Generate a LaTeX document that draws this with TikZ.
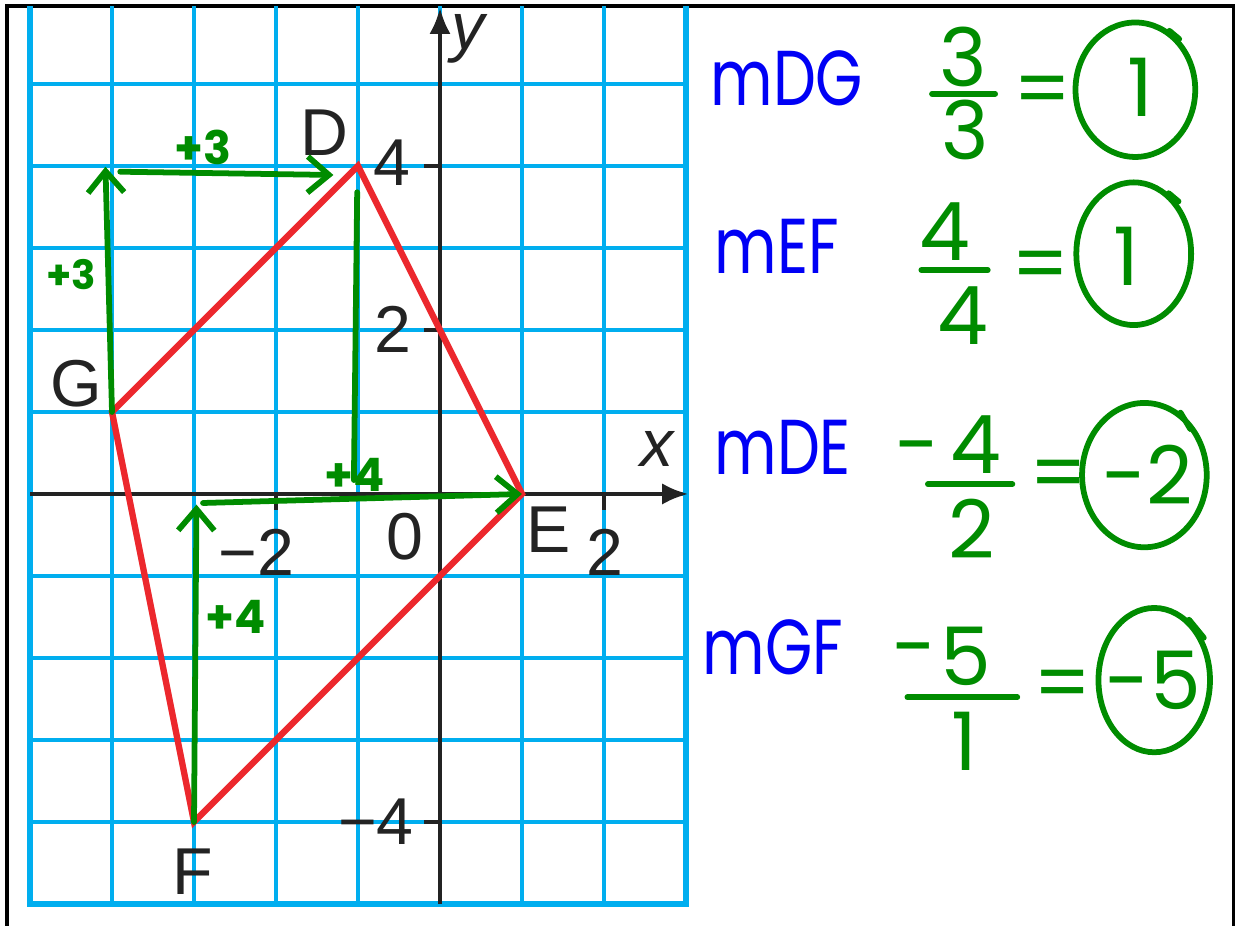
\documentclass[tikz,border=0pt]{standalone}
\usepackage{fontspec}
\setmainfont{Liberation Sans}
\newfontfamily\handfont{Poppins}
\usetikzlibrary{shapes, arrows.meta, positioning, calc}
\definecolor{gridblue}{RGB}{0,174,239}
\definecolor{pengreen}{RGB}{0,140,0}
\definecolor{penblue}{RGB}{0,0,245}
\definecolor{edgered}{RGB}{236,40,45}
\definecolor{inkgray}{RGB}{35,35,35}

\begin{document}
\begin{tikzpicture}[>=Stealth,
    axis/.style={draw=inkgray, line width=1.5pt},
    lbl/.style={text=inkgray, inner sep=0pt, font=\fontsize{23}{26}\selectfont},
    pen/.style={draw=pengreen, line width=2pt, line cap=round, line join=round},
    penarrow/.style={-{Straight Barb[length=2.6mm,width=4.4mm]}},
    jot/.style={text=pengreen, inner sep=0pt, font=\handfont\bfseries\fontsize{16}{18}\selectfont},
    hand/.style={text=pengreen, inner sep=0pt, font=\handfont\fontsize{28}{32}\selectfont},
    slope/.style={text=penblue, inner sep=0pt, xscale=0.78, transform shape, font=\handfont\fontsize{27}{30}\selectfont},
    ring/.style={ellipse, draw=pengreen, line width=2pt, inner sep=0pt}]

  \useasboundingbox (-5.366,-5.268) rectangle (9.744,6.024);

  % frame
  \draw[black, line width=1.1pt] (-5.28,-5.3) -- (-5.28,5.95) -- (9.68,5.95) -- (9.68,-5.3);

  % grid paper
  \draw[gridblue, line width=1.4pt] (-5,-5) grid (3,5.95);
  \draw[gridblue, line width=2.2pt] (-5,5.95) -- (-5,-5) -- (3,-5) -- (3,5.95);

  % axes
  \draw[axis, -{Latex[length=3.2mm,width=2.6mm]}] (-5,0) -- (3.03,0);
  \draw[axis, -{Latex[length=3.2mm,width=2.6mm]}] (0,-5) -- (0,5.93);
  \foreach \t in {-2,2}
    \draw[axis] (\t,0) -- (\t,-0.2);
  \foreach \t in {-4,2,4}
    \draw[axis] (0,\t) -- (-0.2,\t);

  \node[lbl] (xm2) at (-2.24,-0.71) {−2};
  \node[lbl] (x0) at (-0.43,-0.52) {0};
  \node[lbl] (x2) at (2.01,-0.71) {2};
  \node[lbl] (y4) at (-0.59,4.04) {4};
  \node[lbl] (y2) at (-0.57,2.01) {2};
  \node[lbl] (ym4) at (-0.78,-4.0) {−4};
  \node[lbl] (xlab) at (2.65,0.55) {\itshape x};
  \node[lbl] (ylab) at (0.34,5.55) {\itshape y};

  % quadrilateral
  \coordinate (D) at (-1,4);
  \coordinate (E) at (1,0);
  \coordinate (F) at (-3,-4);
  \coordinate (G) at (-4,1);
  \draw[edgered, line width=2.2pt, line join=miter] (D) -- (E) -- (F) -- (G) -- cycle;

  \node[lbl] (Dlab) at (-1.41,4.4) {D};
  \node[lbl] (Elab) at (1.33,-0.44) {E};
  \node[lbl] (Flab) at (-3.01,-4.61) {F};
  \node[lbl] (Glab) at (-4.44,1.35) {G};

  % rise and run marks
  \coordinate (Gtop) at (-4.08,3.99);
  \coordinate (runA) at (-3.9,3.93);
  \coordinate (runB) at (-1.3,3.89);
  \coordinate (Ddrop) at (-1.01,3.68);
  \coordinate (Dfoot) at (-1.05,0.17);
  \coordinate (Ftop) at (-2.97,-0.13);
  \coordinate (runC) at (-2.89,-0.11);

  \draw[pen, penarrow] (G) -- (Gtop);
  \draw[pen, penarrow] (runA) -- (runB);
  \draw[pen] (Ddrop) -- (Dfoot);
  \draw[pen, penarrow] (F) -- (Ftop);
  \draw[pen, penarrow] (runC) -- (E);

  \node[jot, font=\handfont\bfseries\fontsize{14}{16}\selectfont] (riseGD) at (-4.5,2.67) {+3};
  \node[jot] (runGD) at (-2.89,4.23) {+3};
  \node[jot] (riseDE) at (-1.04,0.23) {+4};
  \node[jot] (riseFE) at (-2.49,-1.5) {+4};

  % slopes
  \node[slope] (mDG) at (4.23,5.07) {mDG};
  \node[hand] (numDG) at (6.38,5.33) {3};
  \node[hand] (denDG) at (6.40,4.44) {3};
  \draw[pen] (6.0,4.88) -- (6.77,4.88);
  \node[hand] (eqDG) at (7.35,4.84) {=};
  \node[ring, minimum width=1.46cm, minimum height=1.64cm] (ringDG) at (8.48,4.93) {};
  \node[hand] (valDG) at (8.54,4.96) {1};
  \draw[pen] (ringDG.60) -- ++(0.12,-0.1);

  \node[slope] (mEF) at (4.11,3.02) {mEF};
  \node[hand] (numEF) at (6.16,3.2) {4};
  \node[hand] (denEF) at (6.38,2.18) {4};
  \draw[pen] (5.87,2.73) -- (6.68,2.73);
  \node[hand] (eqEF) at (7.32,2.71) {=};
  \node[ring, minimum width=1.4cm, minimum height=1.74cm] (ringEF) at (8.46,2.93) {};
  \node[hand] (valEF) at (8.37,2.90) {1};
  \draw[pen] (ringEF.60) -- ++(0.12,-0.1);

  \node[slope] (mDE) at (4.18,0.57) {mDE};
  \node[hand] (negDE) at (5.83,0.45) {-};
  \node[hand] (numDE) at (6.54,0.6) {4};
  \node[hand] (denDE) at (6.48,-0.43) {2};
  \draw[pen] (5.95,0.12) -- (6.98,0.12);
  \node[hand] (eqDE) at (7.54,0.16) {=};
  \node[ring, minimum width=1.52cm, minimum height=1.76cm] (ringDE) at (8.59,0.23) {};
  \node[hand] (valDE) at (8.63,0.23) {-2};
  \draw[pen] (ringDE.60) -- ++(0.12,-0.2);

  \node[slope] (mGF) at (4.06,-1.87) {mGF};
  \node[hand] (negGF) at (5.79,-2.02) {-};
  \node[hand] (numGF) at (6.41,-1.98) {5};
  \node[hand] (denGF) at (6.40,-3.02) {1};
  \draw[pen] (5.70,-2.48) -- (7.04,-2.48);
  \node[hand] (eqGF) at (7.59,-2.40) {=};
  \node[ring, minimum width=1.36cm, minimum height=1.76cm] (ringGF) at (8.71,-2.27) {};
  \node[hand] (valGF) at (8.70,-2.27) {-5};
  \draw[pen] (ringGF.60) -- ++(0.18,-0.22);
\end{tikzpicture}
\end{document}
